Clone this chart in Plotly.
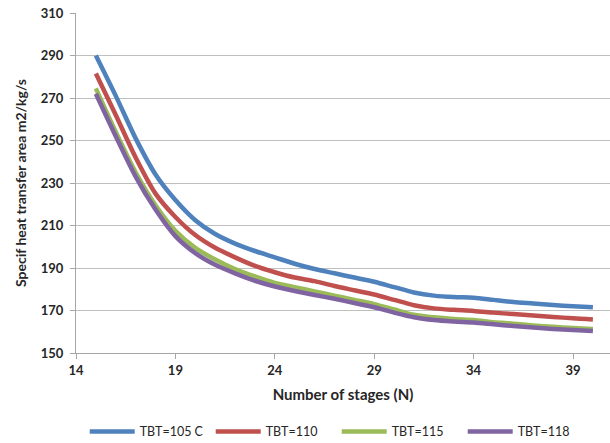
import plotly.graph_objects as go

stages = list(range(15, 41))
tbt_105 = [290, 271, 251, 234, 222, 212.5, 206, 201.5, 198, 195, 192, 189.5, 187.5,
           185.5, 183.5, 181, 178.5, 177, 176.3, 176, 175, 174, 173.3, 172.6, 172, 171.5]
tbt_110 = [281.5, 262, 242, 225, 214, 205.5, 199.5, 195, 191, 188, 185.5, 183.8, 181.5,
           179.5, 177.5, 175, 172.5, 171, 170.3, 169.8, 169, 168.3, 167.6, 167, 166.3, 165.8]
tbt_115 = [274.5, 254, 235, 219.5, 207.5, 199.5, 194, 189.5, 186, 183, 181, 179, 177,
           175, 173, 170.5, 168, 166.8, 166, 165.5, 164.5, 163.8, 163, 162.3, 161.8, 161.3]
tbt_118 = [272, 252, 233, 217.5, 205, 197, 191.5, 187.5, 184, 181.3, 179.2, 177.3, 175.5,
           173.5, 171.5, 169, 166.8, 165.5, 164.8, 164.3, 163.5, 162.7, 162, 161.3, 160.8, 160.3]

series = [("TBT=105 C", tbt_105, "#4F81BD"),
          ("TBT=110", tbt_110, "#C0504D"),
          ("TBT=115", tbt_115, "#9BBB59"),
          ("TBT=118", tbt_118, "#8064A2")]

x_ticks = [14, 19, 24, 29, 34, 39]
y_ticks = [150, 170, 190, 210, 230, 250, 270, 290, 310]

fig = go.Figure()
for name, vals, col in series:
    fig.add_trace(go.Scatter(x=stages, y=vals, name=name, mode="lines",
                             line=dict(color=col, width=4.5, shape="spline", smoothing=0.8)))

font_family = "Lato, 'Open Sans', sans-serif"
fig.update_layout(
    width=610, height=443,
    margin=dict(l=76, r=0, t=13, b=90),
    paper_bgcolor="white", plot_bgcolor="white",
    font=dict(family=font_family, color="#262626"),
    showlegend=True,
    legend=dict(orientation="h", xref="container", yref="container",
                x=0.552, xanchor="center", y=0.025, yanchor="middle",
                font=dict(size=12.5, color="#262626"),
                itemwidth=45, entrywidth=66, entrywidthmode="pixels",
                traceorder="normal"),
    xaxis=dict(range=[14, 40.86], tickvals=x_ticks, showgrid=False, zeroline=False,
               showline=True, linecolor="#A6A6A6", linewidth=1,
               ticks="outside", ticklen=5, tickcolor="#A6A6A6",
               tickfont=dict(size=13, family=font_family, weight="bold"),
               title=dict(text="Number of stages (N)", standoff=12,
                          font=dict(size=15, family=font_family, weight="bold"))),
    yaxis=dict(range=[150, 310], tickvals=y_ticks, showgrid=True, gridcolor="#BFBFBF",
               gridwidth=1.3, zeroline=False,
               showline=True, linecolor="#A6A6A6", linewidth=1,
               ticks="outside", ticklen=5, tickcolor="#A6A6A6", ticklabelstandoff=4,
               tickfont=dict(size=13, family=font_family, weight="bold"),
               title=dict(text="Specif heat transfer area m2/kg/s", standoff=10,
                          font=dict(size=14, family=font_family, weight="bold"))),
)

fig.write_html("out.html")
